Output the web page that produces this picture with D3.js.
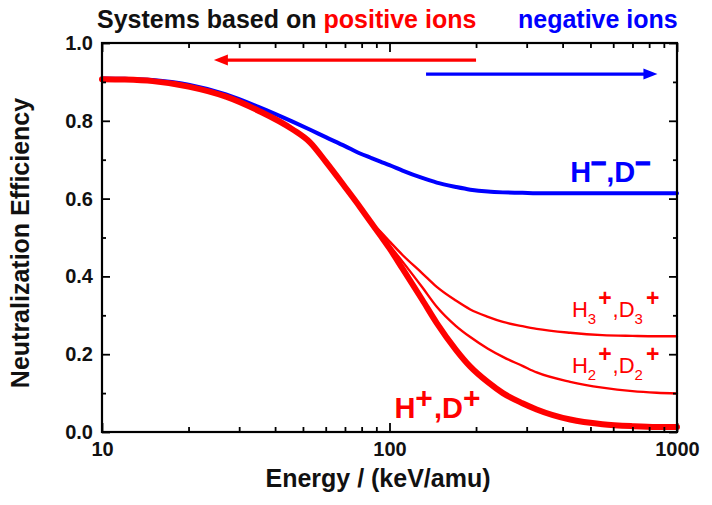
<!DOCTYPE html>
<html>
<head>
<meta charset="utf-8">
<script src="https://cdn.jsdelivr.net/npm/d3@7"></script>
<style>
  body { margin: 0; background: #fff; }
  svg { display: block; }
</style>
</head>
<body>
<div id="chart"></div>
<script>
// energy grid (keV/amu) and neutralization efficiency
const energy = [10, 12, 15, 20, 27, 35, 46, 53, 60, 70, 79, 86, 93, 100, 111, 130, 146, 170, 191, 220, 248, 290, 325, 425, 550, 700, 850, 1000];
const hPlus  = [0.907, 0.906, 0.902, 0.888, 0.862, 0.826, 0.778, 0.744, 0.695, 0.630, 0.578, 0.540, 0.505, 0.472, 0.420, 0.340, 0.280, 0.212, 0.168, 0.128, 0.100, 0.074, 0.058, 0.032, 0.020, 0.015, 0.013, 0.013];
const h2Plus = [0.907, 0.906, 0.902, 0.888, 0.862, 0.826, 0.778, 0.744, 0.695, 0.630, 0.578, 0.540, 0.510, 0.480, 0.438, 0.372, 0.322, 0.273, 0.244, 0.214, 0.193, 0.170, 0.153, 0.129, 0.114, 0.105, 0.101, 0.099];
const h3Plus = [0.907, 0.906, 0.902, 0.888, 0.862, 0.826, 0.778, 0.744, 0.695, 0.630, 0.578, 0.540, 0.515, 0.490, 0.455, 0.408, 0.373, 0.338, 0.315, 0.296, 0.283, 0.272, 0.265, 0.255, 0.249, 0.247, 0.246, 0.246];
const hMinus = [0.909, 0.908, 0.905, 0.893, 0.868, 0.836, 0.798, 0.777, 0.758, 0.735, 0.716, 0.705, 0.695, 0.686, 0.672, 0.653, 0.641, 0.630, 0.623, 0.618, 0.616, 0.615, 0.614, 0.614, 0.614, 0.614, 0.614, 0.614];

const xMajor = [10, 100, 1000];
const xMinor = [20, 30, 40, 50, 60, 70, 80, 90, 200, 300, 400, 500, 600, 700, 800, 900];
const yMajor = [0, 0.2, 0.4, 0.6, 0.8, 1.0];
const yMinor = [0.1, 0.3, 0.5, 0.7, 0.9];

const width = 712, height = 505;
const margin = { top: 43, right: 35, bottom: 73, left: 102 };
const innerWidth = width - margin.left - margin.right;
const innerHeight = height - margin.top - margin.bottom;

const RED = "#ff0000", BLUE = "#0000ff";
const FONT = '"Liberation Sans", Arial, sans-serif';

const xScale = d3.scaleLog().domain([10, 1000]).range([0, innerWidth]);
const yScale = d3.scaleLinear().domain([0, 1]).range([innerHeight, 0]);

const svg = d3.select("#chart").append("svg")
  .attr("width", width).attr("height", height)
  .attr("viewBox", [0, 0, width, height])
  .attr("font-family", FONT);

const inner = svg.append("g")
  .attr("transform", `translate(${margin.left}, ${margin.top})`);

// curves
const line = d3.line()
  .x(d => xScale(d[0]))
  .y(d => yScale(d[1]))
  .curve(d3.curveMonotoneX);

const series = [
  { values: hMinus, color: BLUE, w: 4 },
  { values: h3Plus, color: RED, w: 2.4 },
  { values: h2Plus, color: RED, w: 2.4 },
  { values: hPlus,  color: RED, w: 6 }
];
series.forEach(s => {
  inner.append("path")
    .datum(energy.map((e, i) => [e, s.values[i]]))
    .attr("d", line)
    .attr("fill", "none")
    .attr("stroke", s.color)
    .attr("stroke-width", s.w)
    .attr("stroke-linejoin", "round")
    .attr("stroke-linecap", "round");
});

// axes, ticks pointing inwards on all four sides
const styleAxis = (g) => {
  g.attr("font-size", 20).attr("font-family", FONT).attr("font-weight", "bold");
  g.select(".domain").remove();
  g.selectAll(".tick line").attr("stroke", "#000").attr("stroke-width", 1.8);
  g.selectAll(".tick text")
    .filter(function () { return this.textContent === ""; })
    .remove();
  g.selectAll(".tick text").attr("fill", "#111");
};

inner.append("g").attr("transform", `translate(0, ${innerHeight})`)
  .call(d3.axisBottom(xScale).tickValues(xMajor).tickFormat(d3.format("d"))
    .tickSizeInner(-9).tickSizeOuter(0).tickPadding(10))
  .call(styleAxis);
inner.append("g").attr("transform", `translate(0, ${innerHeight})`)
  .call(d3.axisBottom(xScale).tickValues(xMinor).tickFormat("").tickSizeInner(-5).tickSizeOuter(0))
  .call(styleAxis);
inner.append("g")
  .call(d3.axisTop(xScale).tickValues(xMajor).tickFormat("").tickSizeInner(-9).tickSizeOuter(0))
  .call(styleAxis);
inner.append("g")
  .call(d3.axisTop(xScale).tickValues(xMinor).tickFormat("").tickSizeInner(-5).tickSizeOuter(0))
  .call(styleAxis);

inner.append("g")
  .call(d3.axisLeft(yScale).tickValues(yMajor).tickFormat(d3.format(".1f"))
    .tickSizeInner(-8).tickSizeOuter(0).tickPadding(9))
  .call(styleAxis);
inner.append("g")
  .call(d3.axisLeft(yScale).tickValues(yMinor).tickFormat("").tickSizeInner(-4).tickSizeOuter(0))
  .call(styleAxis);
inner.append("g").attr("transform", `translate(${innerWidth}, 0)`)
  .call(d3.axisRight(yScale).tickValues(yMajor).tickFormat("").tickSizeInner(-8).tickSizeOuter(0))
  .call(styleAxis);
inner.append("g").attr("transform", `translate(${innerWidth}, 0)`)
  .call(d3.axisRight(yScale).tickValues(yMinor).tickFormat("").tickSizeInner(-4).tickSizeOuter(0))
  .call(styleAxis);

inner.append("rect")
  .attr("width", innerWidth).attr("height", innerHeight)
  .attr("fill", "none").attr("stroke", "#000").attr("stroke-width", 2.2);

// axis titles
svg.append("text")
  .attr("x", 378).attr("y", 487)
  .attr("text-anchor", "middle")
  .attr("font-size", 25).attr("font-weight", "bold").attr("fill", "#111")
  .text("Energy / (keV/amu)");

svg.append("text")
  .attr("transform", `translate(29, 243) rotate(-90)`)
  .attr("text-anchor", "middle")
  .attr("font-size", 25).attr("font-weight", "bold").attr("fill", "#111")
  .text("Neutralization Efficiency");

// header: pieces placed one after another as separate texts
const header = (x, y, parts) => {
  let cx = x;
  parts.forEach(p => {
    const t = svg.append("text")
      .attr("x", cx).attr("y", y)
      .attr("font-size", 25).attr("font-weight", "bold")
      .attr("fill", p.color)
      .text(p.t);
    cx += t.node().getComputedTextLength() + (p.gap || 0);
  });
};
header(97, 28, [
  { t: "Systems based on", color: "#111", gap: 7 },
  { t: "positive ions", color: RED }
]);
header(518, 28, [{ t: "negative ions", color: BLUE }]);

// arrows (in data coordinates)
const arrow = (from, to, yv, color) => {
  const x0 = xScale(from), x1 = xScale(to), yy = yScale(yv);
  const dir = Math.sign(x1 - x0);
  const head = 14, half = 5.5;
  inner.append("line")
    .attr("x1", x0).attr("x2", x1 - dir * head + dir)
    .attr("y1", yy).attr("y2", yy)
    .attr("stroke", color).attr("stroke-width", 3.2);
  inner.append("path")
    .attr("d", `M${x1},${yy} L${x1 - dir * head},${yy - half} L${x1 - dir * head},${yy + half} Z`)
    .attr("fill", color);
};
arrow(200, 24.5, 0.956, RED);
arrow(134, 855, 0.920, BLUE);

// curve labels with sub/superscripts, every piece its own text element
const richLabel = (ex, ev, parts, size, weight, color) => {
  const x0 = xScale(ex), y0 = yScale(ev);
  let cx = x0;
  parts.forEach(p => {
    cx += p.dx || 0;
    const t = inner.append("text")
      .attr("x", cx).attr("y", y0 + (p.shift || 0))
      .attr("fill", color)
      .attr("font-size", p.size || size)
      .attr("font-weight", p.weight || weight)
      .attr("stroke", p.stroke ? color : null)
      .attr("stroke-width", p.stroke || null)
      .text(p.t);
    cx += t.node().getComputedTextLength();
  });
};

richLabel(425, 0.643, [
  { t: "H" }, { t: "\u2212", size: 26, shift: -10, stroke: 1.4 },
  { t: "," }, { t: "D" }, { t: "\u2212", size: 26, shift: -10, stroke: 1.4 }
], 29, "bold", BLUE);

richLabel(104, 0.036, [
  { t: "H" }, { t: "+", size: 30, shift: -10 },
  { t: ",", dx: 1 }, { t: "D" }, { t: "+", size: 30, shift: -10 }
], 29, "bold", RED);

richLabel(431, 0.296, [
  { t: "H" }, { t: "3", size: 15, shift: 7 }, { t: "+", size: 23, shift: -11, weight: "bold", dx: 2 },
  { t: ",", dx: 1 }, { t: "D" }, { t: "3", size: 15, shift: 7 }, { t: "+", size: 23, shift: -11, weight: "bold", dx: 3 }
], 22, "normal", RED);

richLabel(431, 0.152, [
  { t: "H" }, { t: "2", size: 15, shift: 7 }, { t: "+", size: 23, shift: -11, weight: "bold", dx: 2 },
  { t: ",", dx: 1 }, { t: "D" }, { t: "2", size: 15, shift: 7 }, { t: "+", size: 23, shift: -11, weight: "bold", dx: 3 }
], 22, "normal", RED);
</script>
</body>
</html>
